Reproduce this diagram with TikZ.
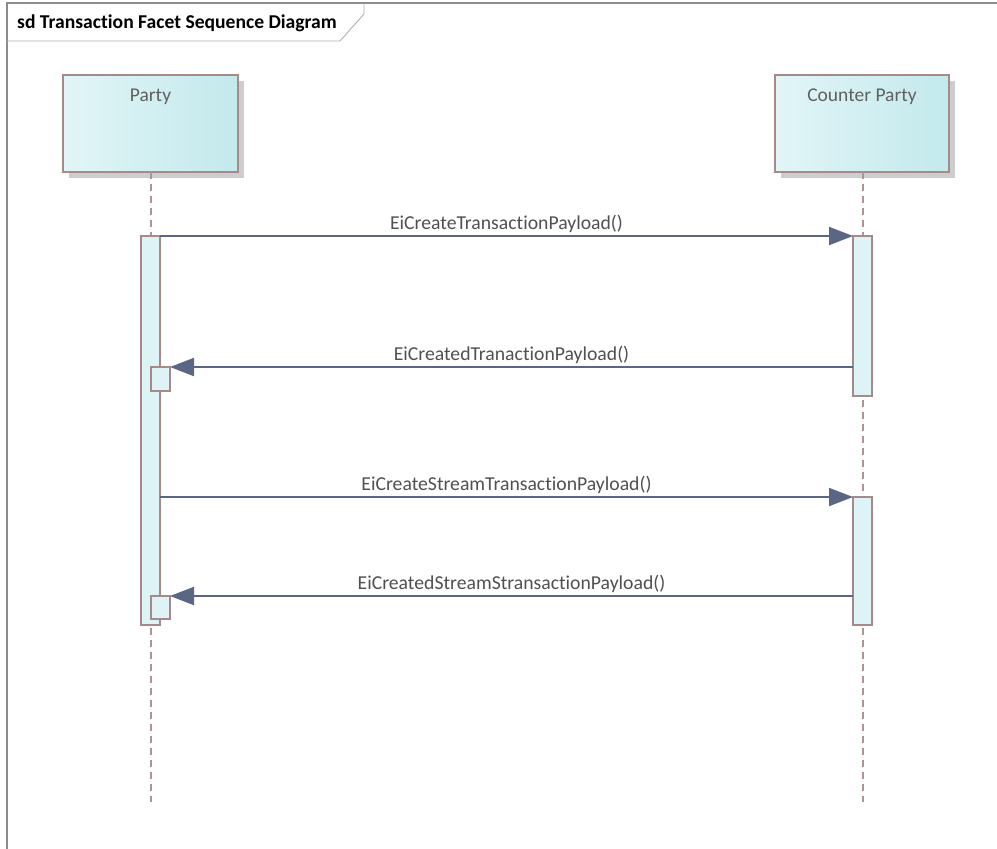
\documentclass[tikz,border=0pt]{standalone}
\usepackage{fontspec}
\setmainfont{Carlito}[RawFeature={-liga}]
\usetikzlibrary{arrows.meta}

\definecolor{framegray}{HTML}{8C8C8C}
\definecolor{boxborder}{HTML}{A68A8A}
\definecolor{lifedash}{HTML}{B09494}
\definecolor{headleft}{HTML}{E2F5F7}
\definecolor{headright}{HTML}{C3E9EC}
\definecolor{actfill}{HTML}{DDF3F5}
\definecolor{shadowgray}{HTML}{CDCDCD}
\definecolor{msgline}{HTML}{5B6584}
\definecolor{labeltext}{HTML}{505050}
\definecolor{headtext}{HTML}{606060}

\tikzset{
  headbox/.style={draw=boxborder, line width=1.8pt, left color=headleft, right color=headright,
    minimum width=175pt, minimum height=97pt, inner sep=0pt, outer sep=0pt, anchor=north west},
  headshadow/.style={fill=shadowgray, draw=none},
  headlabel/.style={text=headtext, font=\fontsize{19.5}{23}\selectfont, inner sep=0pt, anchor=base},
  actbox/.style={draw=boxborder, line width=1.8pt, fill=actfill, minimum width=19pt,
    inner sep=0pt, outer sep=0pt, anchor=north west},
  lifeline/.style={draw=lifedash, line width=2pt, dash pattern=on 7pt off 5pt},
  msg/.style={draw=msgline, line width=2pt, -{Triangle[length=24pt,width=18pt]}},
  msglabel/.style={text=labeltext, font=\fontsize{19.7}{23}\selectfont, inner sep=0pt, anchor=base},
}

\begin{document}
\begin{tikzpicture}[x=1pt, y=-1pt]
  \useasboundingbox (0,0) rectangle (997,849);

  % diagram frame and name tab
  \draw[framegray, line width=1.6pt] (7,849) -- (7,3) -- (997,3);
  \draw[framegray!70, line width=0.9pt] (7,41) -- (340,41) -- (364,14) -- (364,3);
  \node[anchor=base west, inner sep=0pt, font=\bfseries\fontsize{19.6}{23}\selectfont] (title)
    at (17,28) {sd Transaction Facet Sequence Diagram};

  % lifeline heads with drop shadows
  \fill[headshadow] (69,81) rectangle (244,178);
  \fill[headshadow] (781,81) rectangle (955,178);
  \node[headbox] (party) at (63,75) {};
  \node[headbox, minimum width=174pt] (counter) at (775,75) {};
  \node[headlabel] (partylbl) at (150.5,101) {Party};
  \node[headlabel] (counterlbl) at (862,101) {Counter Party};

  % lifelines
  \coordinate (partyend) at (150.5,802);
  \coordinate (counterend) at (862.5,802);
  \draw[lifeline] (party.south -| partyend) -- (partyend);
  \draw[lifeline] (counter.south -| counterend) -- (counterend);

  % activation bars
  \node[actbox, minimum height=389pt] (actP) at (141,236) {};
  \node[actbox, minimum height=24pt] (subP1) at (151,367) {};
  \node[actbox, minimum height=23pt] (subP2) at (151,596) {};
  \node[actbox, minimum height=160pt] (actC1) at (853,236) {};
  \node[actbox, minimum height=128pt] (actC2) at (853,497) {};

  % messages
  \draw[msg] (actP.north east) -- (actC1.north west)
    node[msglabel, pos=0.5, yshift=7pt] (m1) {EiCreateTransactionPayload()};
  \draw[msg] (actC1.west |- subP1.north) -- (subP1.north east)
    node[msglabel, pos=0.5, yshift=7pt] (m2) {EiCreatedTranactionPayload()};
  \draw[msg] (actP.east |- actC2.north) -- (actC2.north west)
    node[msglabel, pos=0.5, yshift=7pt] (m3) {EiCreateStreamTransactionPayload()};
  \draw[msg] (actC2.west |- subP2.north) -- (subP2.north east)
    node[msglabel, pos=0.5, yshift=7pt] (m4) {EiCreatedStreamStransactionPayload()};
\end{tikzpicture}
\end{document}
